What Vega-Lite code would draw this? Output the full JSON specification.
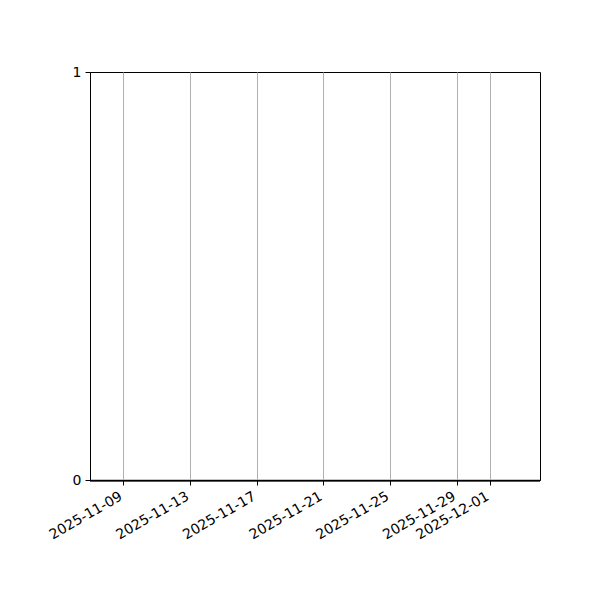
{
  "$schema": "https://vega.github.io/schema/vega-lite/v6.json",
  "autosize": {"type": "none"},
  "width": 450,
  "height": 408,
  "padding": {"left": 90, "top": 72, "right": 60, "bottom": 120},
  "background": "white",
  "config": {
    "view": {"stroke": "black", "strokeWidth": 1},
    "font": "DejaVu Sans",
    "axis": {
      "labelFont": "DejaVu Sans",
      "labelFontSize": 14,
      "labelColor": "black",
      "domainColor": "black",
      "tickColor": "black",
      "tickSize": 5,
      "labelPadding": 4,
      "titleFontSize": 14
    }
  },
  "data": {
    "values": [
      {"date": "2025-11-07", "value": 0},
      {"date": "2025-11-08", "value": 0},
      {"date": "2025-11-09", "value": 0},
      {"date": "2025-11-10", "value": 0},
      {"date": "2025-11-11", "value": 0},
      {"date": "2025-11-12", "value": 0},
      {"date": "2025-11-13", "value": 0},
      {"date": "2025-11-14", "value": 0},
      {"date": "2025-11-15", "value": 0},
      {"date": "2025-11-16", "value": 0},
      {"date": "2025-11-17", "value": 0},
      {"date": "2025-11-18", "value": 0},
      {"date": "2025-11-19", "value": 0},
      {"date": "2025-11-20", "value": 0},
      {"date": "2025-11-21", "value": 0},
      {"date": "2025-11-22", "value": 0},
      {"date": "2025-11-23", "value": 0},
      {"date": "2025-11-24", "value": 0},
      {"date": "2025-11-25", "value": 0},
      {"date": "2025-11-26", "value": 0},
      {"date": "2025-11-27", "value": 0},
      {"date": "2025-11-28", "value": 0},
      {"date": "2025-11-29", "value": 0},
      {"date": "2025-11-30", "value": 0},
      {"date": "2025-12-01", "value": 0},
      {"date": "2025-12-02", "value": 0},
      {"date": "2025-12-03", "value": 0},
      {"date": "2025-12-04", "value": 0}
    ]
  },
  "mark": {"type": "line", "color": "#0000ff", "strokeWidth": 2, "yOffset": 0.75, "clip": false},
  "encoding": {
    "x": {
      "field": "date",
      "type": "temporal",
      "title": null,
      "scale": {"type": "utc", "domain": ["2025-11-07", "2025-12-04"], "nice": false},
      "axis": {
        "values": ["2025-11-09", "2025-11-13", "2025-11-17", "2025-11-21", "2025-11-25", "2025-11-29", "2025-12-01"],
        "labelExpr": "utcFormat(datum.value, '%Y-%m-%d')",
        "labelOverlap": false,
        "labelAngle": -30,
        "labelAlign": "right",
        "labelBaseline": "top",
        "labelOffset": -6,
        "grid": true,
        "gridColor": "#b0b0b0",
        "gridWidth": 1,
        "zindex": 1
      }
    },
    "y": {
      "field": "value",
      "type": "quantitative",
      "title": null,
      "scale": {"domain": [0, 1], "nice": false},
      "axis": {"values": [0, 1], "format": "d", "grid": false, "zindex": 1}
    }
  }
}
